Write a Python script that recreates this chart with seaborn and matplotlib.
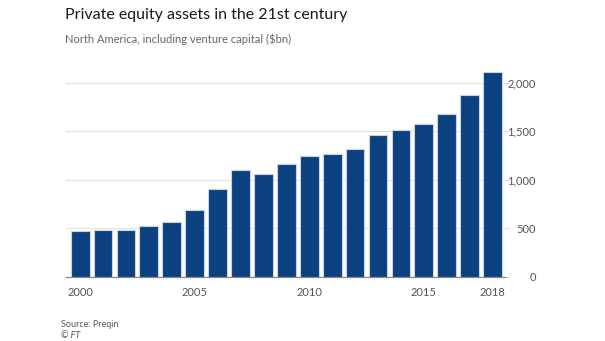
import matplotlib
matplotlib.use("Agg")
import matplotlib.pyplot as plt
import seaborn as sns
import pandas as pd

years = list(range(2000, 2019))
assets = [476, 483, 480, 527, 565, 687, 901, 1099, 1054, 1163, 1248, 1265, 1320,
          1463, 1514, 1575, 1673, 1874, 2109]
xtick_years = [2000, 2005, 2010, 2015, 2018]
yticks = [0, 500, 1000, 1500, 2000]

sns.set_theme(style="white")
plt.rcParams['font.family'] = ['Lato', 'DejaVu Sans']

df = pd.DataFrame({"year": years, "assets": assets})

fig = plt.figure(figsize=(6.05, 3.41), dpi=100)
ax = fig.add_axes([0.109, 0.188, 0.726, 0.627])

sns.barplot(data=df, x="year", y="assets", color="#0b4180", saturation=1,
            width=0.82, edgecolor="#c9d3df", linewidth=0.8, ax=ax, zorder=3)

ax.set_ylim(0, 2200)
ax.set_xlim(-0.62, 18.55)
ax.yaxis.tick_right()
ax.set_yticks(yticks)
ax.set_yticklabels([f"{v:,}" for v in yticks])
ax.grid(axis="y", color="#e8e1d9", linewidth=0.8, zorder=0)
ax.grid(axis="x", visible=False)
ax.set_xticks(range(len(years)))
ax.set_xticklabels([str(y) if y in xtick_years else "" for y in years])
ax.set_xlabel("")
ax.set_ylabel("")
for s in ["top", "right", "left"]:
    ax.spines[s].set_visible(False)
ax.spines["bottom"].set_color("#8a8785")
ax.spines["bottom"].set_linewidth(0.9)
ax.tick_params(axis="x", length=4, width=0.7, color="#b8b3ae", labelsize=8,
               labelcolor="#555555", pad=3)
ax.tick_params(axis="y", length=3, width=0.7, color="#d8d2cb", labelsize=8,
               labelcolor="#555555", right=True, left=False)
for lbl in ax.get_yticklabels():
    lbl.set_horizontalalignment("right")
ax.yaxis.set_tick_params(pad=19)

fig.text(0.107, 0.955, "Private equity assets in the 21st century", fontsize=11.5,
         color="#1a1a1a", va="center", ha="left")
fig.text(0.107, 0.885, "North America, including venture capital ($bn)", fontsize=8,
         color="#666666", va="center", ha="left")
fig.text(0.101, 0.048, "Source: Preqin", fontsize=6.5, color="#555555", va="center")
fig.text(0.101, 0.015, "© FT", fontsize=6.5, color="#555555", va="center", style="italic")

fig.savefig("out.png", dpi=100)
